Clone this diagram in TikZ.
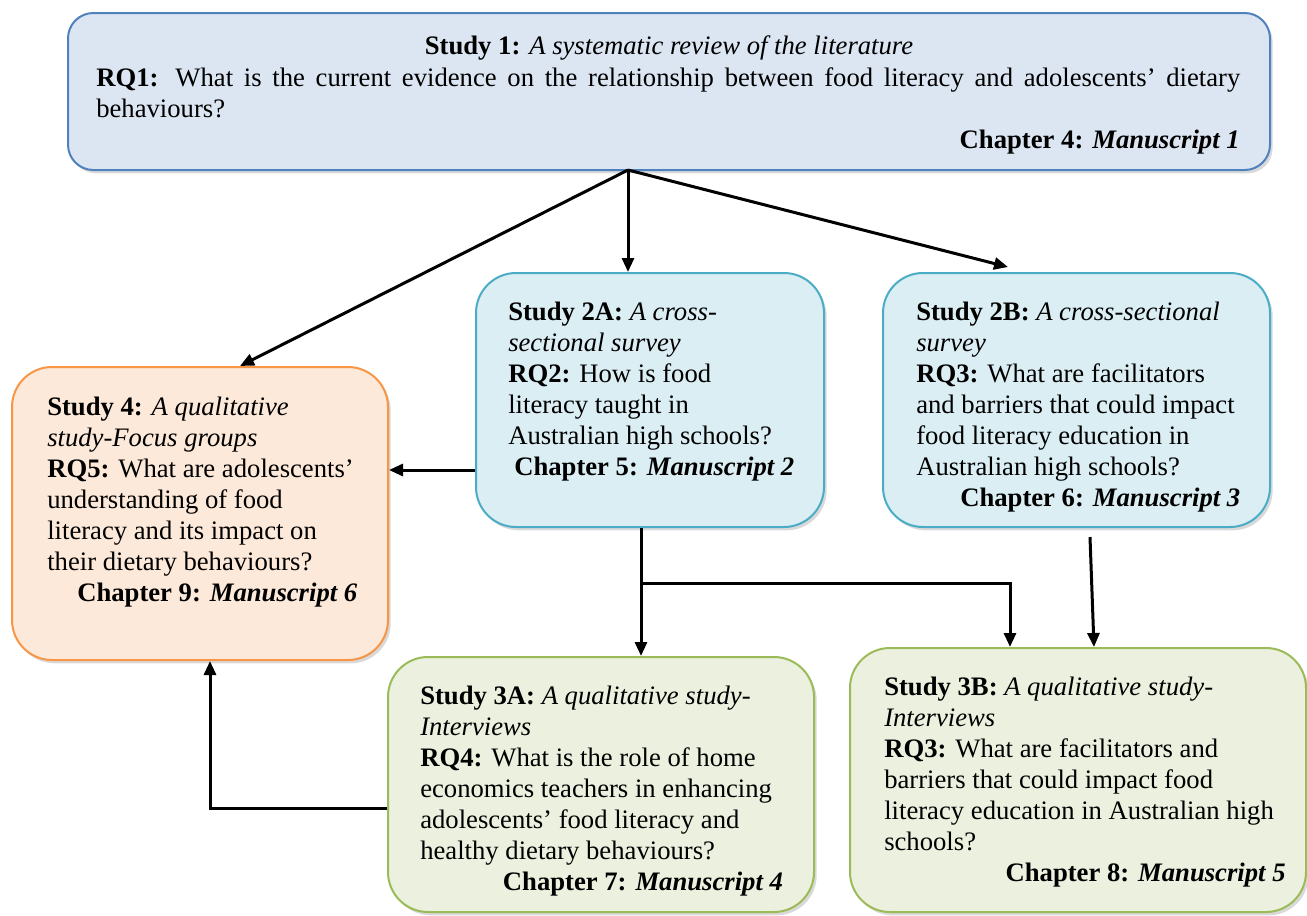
\documentclass[tikz,border=0pt]{standalone}
\usepackage{fontspec}
\setmainfont{Liberation Serif}
\usetikzlibrary{arrows.meta,shadows}
\definecolor{topfill}{RGB}{220,230,242}
\definecolor{topline}{RGB}{79,129,189}
\definecolor{aquafill}{RGB}{219,238,244}
\definecolor{aqualine}{RGB}{75,172,198}
\definecolor{orangefill}{RGB}{253,233,217}
\definecolor{orangeline}{RGB}{247,150,70}
\definecolor{greenfill}{RGB}{235,241,222}
\definecolor{greenline}{RGB}{155,187,89}
\newcommand{\boxfont}{\fontsize{20}{23.25}\selectfont}
\tikzset{
  studybox/.style={draw, line width=1.5pt, rounded corners=30pt, inner sep=0pt,
    drop shadow={opacity=0.3, shadow xshift=2pt, shadow yshift=-2.5pt}},
  studytext/.style={anchor=north west, inner sep=0pt, align=left, font=\boxfont},
  flow/.style={line width=2.25pt, -{Triangle[length=10.5pt,width=9pt]}},
}
\begin{document}
\begin{tikzpicture}[x=0.75pt,y=0.75pt,yscale=-1,xscale=1]
\useasboundingbox (0,0) rectangle (1307,915);

%Rounded Rect: Study 1
\node (s1) [studybox, fill=topfill, draw=topline, rounded corners=19pt, minimum width=901.5pt, minimum height=117.75pt] at (669,91.5) {};
%Rounded Rect: Study 2A
\node (s2a) [studybox, fill=aquafill, draw=aqualine, minimum width=261pt, minimum height=190.5pt] at (650,400) {};
%Rounded Rect: Study 2B
\node (s2b) [studybox, fill=aquafill, draw=aqualine, minimum width=290.25pt, minimum height=190.5pt] at (1076.5,400) {};
%Rounded Rect: Study 4
\node (s4) [studybox, fill=orangefill, draw=orangeline, minimum width=282pt, minimum height=219.75pt] at (200,513.5) {};
%Rounded Rect: Study 3A
\node (s3a) [studybox, fill=greenfill, draw=greenline, minimum width=319.5pt, minimum height=191.25pt] at (601,784.5) {};
%Rounded Rect: Study 3B
\node (s3b) [studybox, fill=greenfill, draw=greenline, minimum width=342pt, minimum height=198pt] at (1078,780) {};

% Text Node
\node (s1title) [anchor=base, inner sep=0pt, font=\boxfont] at (669,54) {\textbf{Study 1:} \textit{A systematic review of the literature}};
% Text Node
\node (s1rq) [studytext, text width=858pt, align=justify] at (96,64.3) {\strut\textbf{RQ1:} What is the current evidence on the relationship between food literacy and adolescents' dietary\linebreak behaviours?};
% Text Node
\node (s1ch) [anchor=base east, inner sep=0pt, font=\boxfont] at (1240,148) {\textbf{Chapter 4: \textit{Manuscript 1}}};
% Text Node
\node (s2atext) [studytext] at (508,299) {\strut\textbf{Study 2A:} \textit{A cross-}\\
  \textit{sectional survey}\\
  \textbf{RQ2:} How is food\\
  literacy taught in\\
  Australian high schools?\\
  \hspace*{4.5pt}\textbf{Chapter 5: \textit{Manuscript 2}}};
% Text Node
\node (s2btext) [studytext] at (916,299) {\strut\textbf{Study 2B:} \textit{A cross-sectional}\\
  \textit{survey}\\
  \textbf{RQ3:} What are facilitators\\
  and barriers that could impact\\
  food literacy education in\\
  Australian high schools?\\
  \hspace*{33pt}\textbf{Chapter 6: \textit{Manuscript 3}}};
% Text Node
\node (s4text) [studytext] at (47,394) {\strut\textbf{Study 4:} \textit{A qualitative}\\
  \textit{study-Focus groups}\\
  \textbf{RQ5:} What are adolescents'\\
  understanding of food\\
  literacy and its impact on\\
  their dietary behaviours?\\
  \hspace*{22.5pt}\textbf{Chapter 9: \textit{Manuscript 6}}};
% Text Node
\node (s3atext) [studytext] at (420,683) {\strut\textbf{Study 3A:} \textit{A qualitative study-}\\
  \textit{Interviews}\\
  \textbf{RQ4:} What is the role of home\\
  economics teachers in enhancing\\
  adolescents' food literacy and\\
  healthy dietary behaviours?\\
  \hspace*{62pt}\textbf{Chapter 7: \textit{Manuscript 4}}};
% Text Node
\node (s3btext) [studytext] at (884,674) {\strut\textbf{Study 3B:} \textit{A qualitative study-}\\
  \textit{Interviews}\\
  \textbf{RQ3:} What are facilitators and\\
  barriers that could impact food\\
  literacy education in Australian high\\
  schools?\\
  \hspace*{91pt}\textbf{Chapter 8: \textit{Manuscript 5}}};

%Straight Lines
\coordinate (hub) at (628,170);
\coordinate (split) at (641,583);
\draw [flow] (hub) -- (240,0 |- s4.north);
\draw [flow] (hub) -- (hub |- s2a.north);
\draw [flow] (hub) -- (1008,267);
\draw [flow] (s2a.west |- 0,470) -- (s4.east |- 0,470);
\draw [flow] (641,0 |- s2a.south) -- (641,0 |- s3a.north);
\draw [flow] (split) -- (1010,583) -- (1010,0 |- s3b.north);
\draw [flow] (1090,537) -- (1094,0 |- s3b.north);
\draw [flow] (s3a.west |- 0,808) -- (210,808) -- (210,0 |- s4.south);

\end{tikzpicture}
\end{document}
